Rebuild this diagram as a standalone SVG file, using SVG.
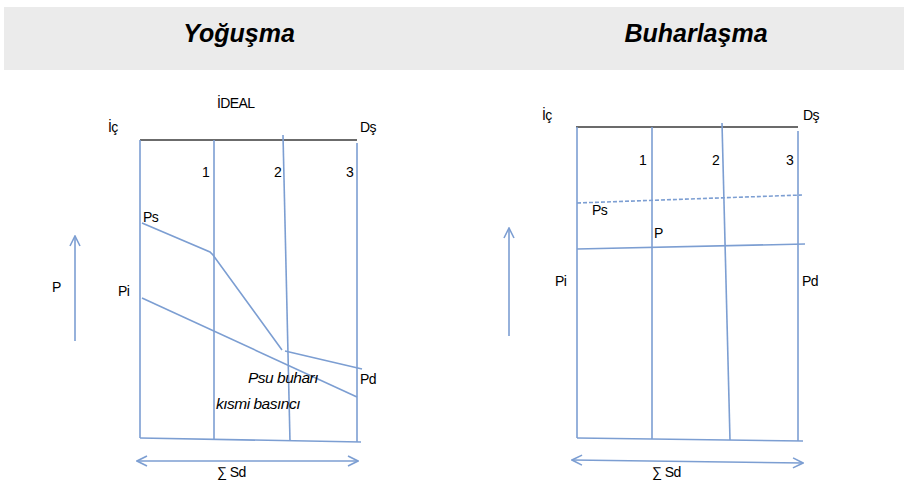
<svg xmlns="http://www.w3.org/2000/svg" width="904" height="480" viewBox="0 0 904 480">
<defs>
<style>
.t{font-family:"Liberation Sans",Arial,sans-serif;font-size:14px;fill:#000;letter-spacing:-0.6px}
.h{font-family:"Liberation Sans",Arial,sans-serif;font-size:25px;font-weight:bold;font-style:italic;fill:#000}
.it{font-style:italic;font-size:15.5px;letter-spacing:-0.5px}
.b{stroke:#7c9ed2;stroke-width:1.6;fill:none}
.g{stroke:#6b6b6b;stroke-width:2;fill:none}
.ar{stroke:#7c9ed2;stroke-width:1.6;fill:none}
</style>
<marker id="ah" viewBox="0 0 12 12" refX="11" refY="6" markerWidth="12" markerHeight="12" markerUnits="userSpaceOnUse" orient="auto-start-reverse">
<path d="M1,1 L11,6 L1,11" fill="none" stroke="#7c9ed2" stroke-width="1.6"/>
</marker>
</defs>
<rect width="904" height="480" fill="#fff"/>
<g id="header">
<rect x="4" y="7" width="900" height="63" fill="#ebebeb"/>
<text class="h" x="239" y="42" text-anchor="middle">Yoğuşma</text>
<text class="h" x="696" y="42" text-anchor="middle">Buharlaşma</text>
</g>
<g id="left-diagram">
<g id="left-frame">
<line class="g" x1="140" y1="140" x2="357" y2="140"/>
<line class="b" x1="140" y1="140" x2="140" y2="438"/>
<line class="b" x1="214" y1="140" x2="214" y2="440"/>
<line class="b" x1="283" y1="135" x2="290" y2="441"/>
<line class="b" x1="357" y1="143" x2="357" y2="442"/>
<line class="b" x1="140" y1="438" x2="361" y2="442"/>
</g>
<g id="left-curves">
<polyline class="b" points="142,223 210,252 213,255 282,350"/>
<line class="b" x1="285" y1="351" x2="362" y2="369"/>
<line class="b" x1="142" y1="298" x2="357" y2="397"/>
</g>
<g id="left-labels">
<text class="t" x="217" y="108">İDEAL</text>
<text class="t" x="108" y="132">İç</text>
<text class="t" x="360" y="132">Dş</text>
<text class="t" x="202" y="177">1</text>
<text class="t" x="274" y="177">2</text>
<text class="t" x="346" y="177">3</text>
<text class="t" x="143" y="222">Ps</text>
<text class="t" x="118" y="296">Pi</text>
<text class="t" x="360" y="384">Pd</text>
<text class="t it" x="248" y="383">Psu buharı</text>
<text class="t it" x="216" y="409">kısmi basıncı</text>
<text class="t" x="52" y="292">P</text>
<text class="t" x="217" y="477">∑ Sd</text>
</g>
</g>
<g id="right-diagram">
<g id="right-frame">
<line class="g" x1="576" y1="127" x2="798" y2="127"/>
<line class="b" x1="577" y1="127" x2="577" y2="438"/>
<line class="b" x1="652" y1="127" x2="652" y2="439"/>
<line class="b" x1="722" y1="123" x2="730" y2="440"/>
<line class="b" x1="798" y1="131" x2="798" y2="441"/>
<line class="b" x1="577" y1="438" x2="803" y2="441"/>
</g>
<g id="right-curves">
<line class="b" x1="577" y1="203" x2="802" y2="195" stroke-dasharray="4,2"/>
<line class="b" x1="577" y1="249" x2="805" y2="244"/>
</g>
<g id="right-labels">
<text class="t" x="542" y="120">İç</text>
<text class="t" x="803" y="120">Dş</text>
<text class="t" x="639" y="165">1</text>
<text class="t" x="712" y="165">2</text>
<text class="t" x="786" y="165">3</text>
<text class="t" x="592" y="215">Ps</text>
<text class="t" x="654" y="238">P</text>
<text class="t" x="555" y="286">Pi</text>
<text class="t" x="802" y="286">Pd</text>
<text class="t" x="652" y="477">∑ Sd</text>
</g>
</g>
<g id="connectors">
<line class="ar" x1="75" y1="341" x2="75" y2="236" marker-end="url(#ah)"/>
<line class="ar" x1="137" y1="461" x2="358" y2="461" marker-start="url(#ah)" marker-end="url(#ah)"/>
<line class="ar" x1="509" y1="336" x2="509" y2="228" marker-end="url(#ah)"/>
<line class="ar" x1="572" y1="460" x2="803" y2="463" marker-start="url(#ah)" marker-end="url(#ah)"/>
</g>
</svg>
